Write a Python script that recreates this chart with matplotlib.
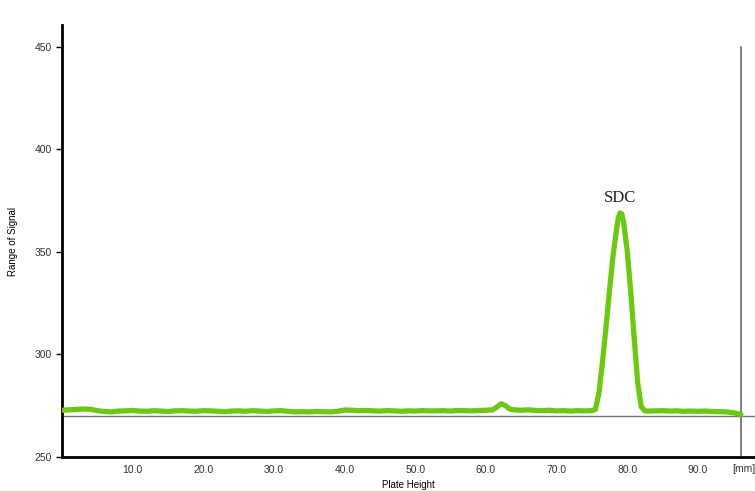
import matplotlib

matplotlib.use("Agg")
import matplotlib.pyplot as plt

# densitogram track: plate height [mm] vs. signal
plate_mm = [
    0, 1, 2, 3, 4, 5, 6, 7, 8, 9, 10, 11, 12, 13, 14, 15, 16, 17, 18, 19,
    20, 21, 22, 23, 24, 25, 26, 27, 28, 29, 30, 31, 32, 33, 34, 35, 36, 37,
    38, 39, 40, 41, 42, 43, 44, 45, 46, 47, 48, 49, 50, 51, 52, 53, 54, 55,
    56, 57, 58, 59, 60, 61, 61.6, 62.2, 62.8, 63.4, 64, 65, 66, 67, 68, 69,
    70, 71, 72, 73, 74, 75, 75.5, 76.0, 76.5, 77.0, 77.5, 78.0, 78.5, 78.75,
    79.0, 79.25, 79.5, 80.0, 80.5, 81.0, 81.5, 82.0, 82.5, 83, 84, 85, 86,
    87, 88, 89, 90, 91, 92, 93, 94, 95, 96.1,
]
signal = [
    272.8, 273.0, 273.2, 273.4, 273.3, 272.6, 272.2, 272.0, 272.4, 272.5,
    272.7, 272.4, 272.3, 272.6, 272.4, 272.2, 272.5, 272.6, 272.4, 272.3,
    272.6, 272.5, 272.3, 272.1, 272.4, 272.5, 272.3, 272.6, 272.4, 272.2,
    272.5, 272.6, 272.3, 272.0, 272.1, 272.0, 272.2, 272.1, 272.0, 272.3,
    272.9, 272.8, 272.6, 272.7, 272.5, 272.4, 272.6, 272.5, 272.3, 272.5,
    272.4, 272.6, 272.5, 272.5, 272.6, 272.4, 272.7, 272.6, 272.5, 272.7,
    272.8, 273.0, 274.5, 276.0, 275.0, 273.4, 273.0, 272.8, 273.0, 272.7,
    272.6, 272.8, 272.5, 272.6, 272.4, 272.6, 272.5, 272.6, 273.2, 281.0,
    296.0, 313.0, 331.0, 348.0, 361.0, 366.5, 369.0, 368.5, 364.5, 351.0,
    331.0, 308.0, 286.0, 274.5, 272.5, 272.4, 272.5, 272.6, 272.4, 272.5,
    272.3, 272.4, 272.3, 272.4, 272.2, 272.1, 272.0, 271.6, 270.8,
]

peak_name = "SDC"
peak_mm = 79.0
peak_signal = 369.0
baseline = 270.1
plate_end = 96.1

x_ticks = [10, 20, 30, 40, 50, 60, 70, 80, 90]
y_ticks = [250, 300, 350, 400, 450]

fig = plt.figure(figsize=(7.55, 4.91), dpi=100)
ax = fig.add_axes([0.0821, 0.0692, 0.9179, 0.8799])

ax.axhline(baseline, color="#7a7a7a", lw=1.0, zorder=1)
ax.axvline(plate_end, ymin=0, ymax=(450 - 250) / (460.6 - 250),
           color="#6a6a6a", lw=1.2, zorder=1)
ax.plot(plate_mm, signal, color="#6cc814", lw=3.8, solid_joinstyle="round",
        solid_capstyle="round", zorder=3)

ax.annotate(peak_name, (peak_mm, peak_signal), xytext=(0, 5),
            textcoords="offset points", ha="center", va="bottom",
            family="Liberation Serif", fontsize=12, color="#222222")

ax.set_xlim(0, 98.1)
ax.set_ylim(250, 460.6)
ax.set_xticks(x_ticks)
ax.set_xticklabels([f"{v:.1f}" for v in x_ticks])
ax.set_yticks(y_ticks)

for side in ("top", "right"):
    ax.spines[side].set_visible(False)
for side in ("left", "bottom"):
    ax.spines[side].set_linewidth(2.0)

ax.tick_params(axis="x", length=0, pad=6, labelsize=7.5, labelcolor="#333333")
ax.tick_params(axis="y", length=4, width=1.0, pad=3, labelsize=7.5,
               labelcolor="#333333")
for lab in ax.get_xticklabels() + ax.get_yticklabels():
    lab.set_family("Liberation Sans")

ax.text(94.9, -0.028, "[mm]", transform=ax.get_xaxis_transform(),
        ha="left", va="center", family="Liberation Sans", fontsize=7.5,
        color="#333333")

ax.set_xlabel("Plate Height", family="Liberation Sans", fontsize=7,
              labelpad=3)
ax.set_ylabel("Range of Signal", family="Liberation Sans", fontsize=7,
              labelpad=12)

fig.savefig("out.png", dpi=100)
